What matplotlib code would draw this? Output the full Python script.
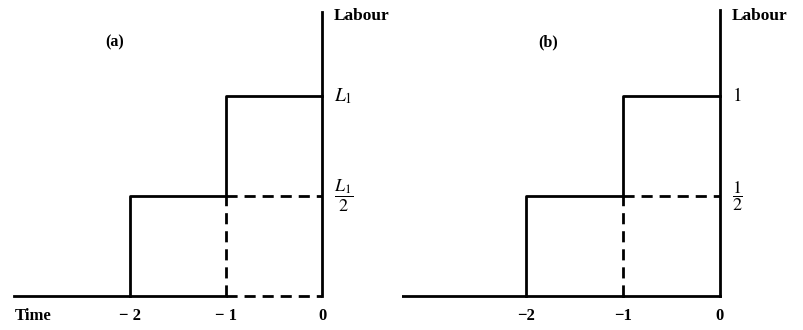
import matplotlib.pyplot as plt

plt.rcParams["font.family"] = ["Liberation Serif", "DejaVu Serif"]
plt.rcParams["mathtext.fontset"] = "stix"

# step profile of labour input over time (same shape in both panels)
step_t = [-2, -2, -1, -1, 0]
step_l = [0, 0.5, 0.5, 1, 1]
# ticks on the time axis
tick_t = [-2, -1, 0]
tick_labels_a = ["\u2212 2", "\u2212 1", "0"]
tick_labels_b = ["\u22122", "\u22121", "0"]
# panel settings
panel_names = ["(a)", "(b)"]
panel_name_x = [-2.16, -1.77]
axis_start = [-3.21, -3.3]
axis_top = [1.42, 1.43]
level_full = ["$L_1$", "$1$"]
level_half = [r"$\dfrac{L_1}{2}$", r"$\dfrac{1}{2}$"]
base_dashed = [True, False]

fig = plt.figure(figsize=(8.04, 3.30), dpi=100)
boxes = [[0, 0, 0.5, 1], [0.5, 0, 0.5, 1]]
xlims = [(-3.354, 0.833), (-3.278, 0.866)]
dash = (0, (4, 2.5))

for i in range(2):
    ax = fig.add_axes(boxes[i])
    ax.set_xlim(*xlims[i])
    ax.set_ylim(-0.17, 1.48)
    ax.axis("off")
    lw = 2.0
    # time axis up to -1
    ax.plot([axis_start[i], -1], [0, 0], color="black", lw=lw)
    # time axis from -1 to 0
    ax.plot([-1, 0], [0, 0], color="black", lw=lw, ls=dash if base_dashed[i] else "-")
    # labour axis
    ax.plot([0, 0], [0, axis_top[i]], color="black", lw=lw)
    # step function
    ax.plot(step_t, step_l, color="black", lw=lw)
    # dashed guides
    ax.plot([-1, 0], [0.5, 0.5], color="black", lw=lw, ls=dash)
    ax.plot([-1, -1], [0, 0.5], color="black", lw=lw, ls=dash)

    ax.text(0.12, 1.40, "Labour", fontsize=12.5, fontweight="bold", va="center", ha="left")
    ax.text(panel_name_x[i], 1.27, panel_names[i], fontsize=11.5,
            fontweight="bold", ha="center", va="center")
    ax.text(0.12, 1.0, level_full[i], fontsize=14, va="center", ha="left")
    ax.text(0.12, 0.5, level_half[i], fontsize=13, va="center", ha="left")

    labels = tick_labels_a if i == 0 else tick_labels_b
    for t, lab in zip(tick_t, labels):
        ax.text(t, -0.1, lab, fontsize=12, fontweight="bold", ha="center", va="center")
    if i == 0:
        ax.text(-3.2, -0.1, "Time", fontsize=12, fontweight="bold", ha="left", va="center")

fig.savefig("out.png", dpi=100)
